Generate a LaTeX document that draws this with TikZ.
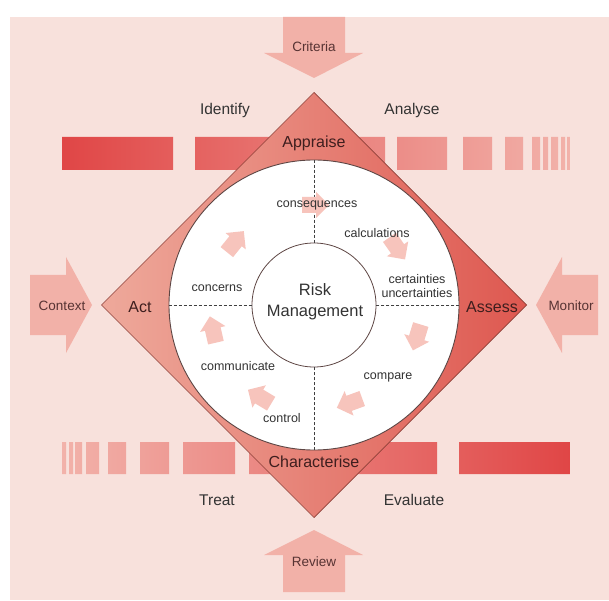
\documentclass[tikz,border=0pt]{standalone}
\usepackage{fontspec}
\setmainfont{Liberation Sans}
\usetikzlibrary{shapes.geometric}
\definecolor{bgpink}{HTML}{F8E1DC}
\definecolor{bigarrow}{HTML}{F2B1A8}
\definecolor{smallarrowc}{HTML}{F7C4BC}
\definecolor{barDark}{HTML}{E04646}
\definecolor{barLight}{HTML}{F2B2AA}
\definecolor{diaLight}{HTML}{EEA99B}
\definecolor{diaDark}{HTML}{DE5850}
\definecolor{diaBorder}{HTML}{8E4038}
\definecolor{circBorder}{HTML}{5E4644}
\definecolor{txtdark}{HTML}{333333}
\definecolor{txtbrown}{HTML}{3E1E1E}
\definecolor{arrtxt}{HTML}{573333}
\tikzset{
  arrowlabel/.style={font=\fontsize{13.5}{16}\selectfont, text=arrtxt, inner sep=0pt},
  phaselabel/.style={font=\fontsize{15.5}{18}\selectfont, text=txtdark, inner sep=0pt},
  dialabel/.style={font=\fontsize{16}{19}\selectfont, text=txtbrown, inner sep=0pt},
  innerlabel/.style={font=\fontsize{12.5}{14}\selectfont, text=txtdark, inner sep=0pt, align=center},
  bigarr/.style={fill=bigarrow, draw=none},
  sepline/.style={draw=black!75, line width=0.7pt, dash pattern=on 3pt off 2pt},
  smallarr/.pic={\fill[smallarrowc] (-13,-8) -- (1,-8) -- (1,-13) -- (14,0) -- (1,13) -- (1,8) -- (-13,8) -- cycle;}
}
\begin{document}
\begin{tikzpicture}[x=1pt,y=1pt]
\useasboundingbox (0,0) rectangle (609,600);
\fill[bgpink] (10,0) rectangle (609,583);

% top bars
\begin{scope}
\clip (62,430) rectangle (173,463) (195,430) rectangle (300,463) (330,430) rectangle (385,463)
      (397,430) rectangle (447,463) (463,430) rectangle (492,463) (505,430) rectangle (523,463)
      (532,430) rectangle (540,463) (543,430) rectangle (548,463) (551,430) rectangle (558,463)
      (561,430) rectangle (565,463) (567,430) rectangle (570,463);
\shade[left color=barDark, right color=barLight] (62,430) rectangle (570,463);
\end{scope}
% bottom bars
\begin{scope}
\clip (62,126) rectangle (66,158) (69,126) rectangle (73,158) (75,126) rectangle (82,158)
      (86,126) rectangle (99,158) (108,126) rectangle (126,158) (140,126) rectangle (169,158)
      (183,126) rectangle (235,158) (249,126) rectangle (300,158) (330,126) rectangle (437,158)
      (459,126) rectangle (570,158);
\shade[left color=barLight, right color=barDark] (62,126) rectangle (570,158);
\end{scope}

% big arrows
\fill[bigarr] (283,583) -- (345,583) -- (345,547) -- (363,547) -- (314,522) -- (264,547) -- (283,547) -- cycle;
\fill[bigarr] (283,8) -- (345,8) -- (345,45) -- (363,45) -- (314,70) -- (264,45) -- (283,45) -- cycle;
\fill[bigarr] (30,265) -- (30,325) -- (66,325) -- (66,343) -- (92,295) -- (66,247) -- (66,265) -- cycle;
\fill[bigarr] (598,265) -- (598,325) -- (562,325) -- (562,343) -- (536,295) -- (562,247) -- (562,265) -- cycle;
\node[arrowlabel] (criteria) at (314,553) {Criteria};
\node[arrowlabel] (review) at (314,38) {Review};
\node[arrowlabel] (context) at (62,294) {Context};
\node[arrowlabel] (monitor) at (571,294) {Monitor};

% diamond
\coordinate (dT) at (314,507.5);
\coordinate (dB) at (314,82.5);
\coordinate (dL) at (101.5,295);
\coordinate (dR) at (526.5,295);
\shadedraw[left color=diaLight, right color=diaDark, draw=diaBorder, line width=0.7pt]
  (dT) -- (dR) -- (dB) -- (dL) -- cycle;

% circles
\node[circle, draw=circBorder, fill=white, line width=0.9pt, minimum size=290pt, inner sep=0pt] (outer) at (314,295) {};
\node[circle, draw=circBorder, line width=0.8pt, minimum size=124pt, inner sep=0pt] (inner) at (314,295) {};
\draw[sepline] (outer.north) -- (inner.north);
\draw[sepline] (outer.south) -- (inner.south);
\draw[sepline] (outer.west) -- (inner.west);
\draw[sepline] (outer.east) -- (inner.east);

% small cycle arrows
\pic[rotate=0] at (315,395) {smallarr};
\pic[rotate=-55] at (397,352) {smallarr};
\pic[rotate=-107] at (417,263) {smallarr};
\pic[rotate=-160] at (350,197) {smallarr};
\pic[rotate=149] at (260,203) {smallarr};
\pic[rotate=103] at (213,270) {smallarr};
\pic[rotate=51] at (235,358) {smallarr};

% labels
\node[phaselabel] (identify) at (225,490) {Identify};
\node[phaselabel] (analyse) at (412,490) {Analyse};
\node[phaselabel] (treat) at (217,100) {Treat};
\node[phaselabel] (evaluate) at (414,100) {Evaluate};
\node[dialabel] (appraise) at (314,457) {Appraise};
\node[dialabel] (characterise) at (314,138) {Characterise};
\node[dialabel] (act) at (140,293) {Act};
\node[dialabel] (assess) at (492,293) {Assess};

\node[font=\fontsize{16.5}{20}\selectfont, text=txtdark, align=center, inner sep=0pt] (risk) at (315,298) {Risk\\[1pt]Management};
\node[innerlabel] (consequences) at (317,395) {consequences};
\node[innerlabel] (calculations) at (377,367) {calculations};
\node[innerlabel] (certainties) at (417,314) {certainties\\uncertainties};
\node[innerlabel] (concerns) at (217,312) {concerns};
\node[innerlabel] (communicate) at (238,234) {communicate};
\node[innerlabel] (control) at (282,182) {control};
\node[innerlabel] (compare) at (388,223) {compare};
\end{tikzpicture}
\end{document}
